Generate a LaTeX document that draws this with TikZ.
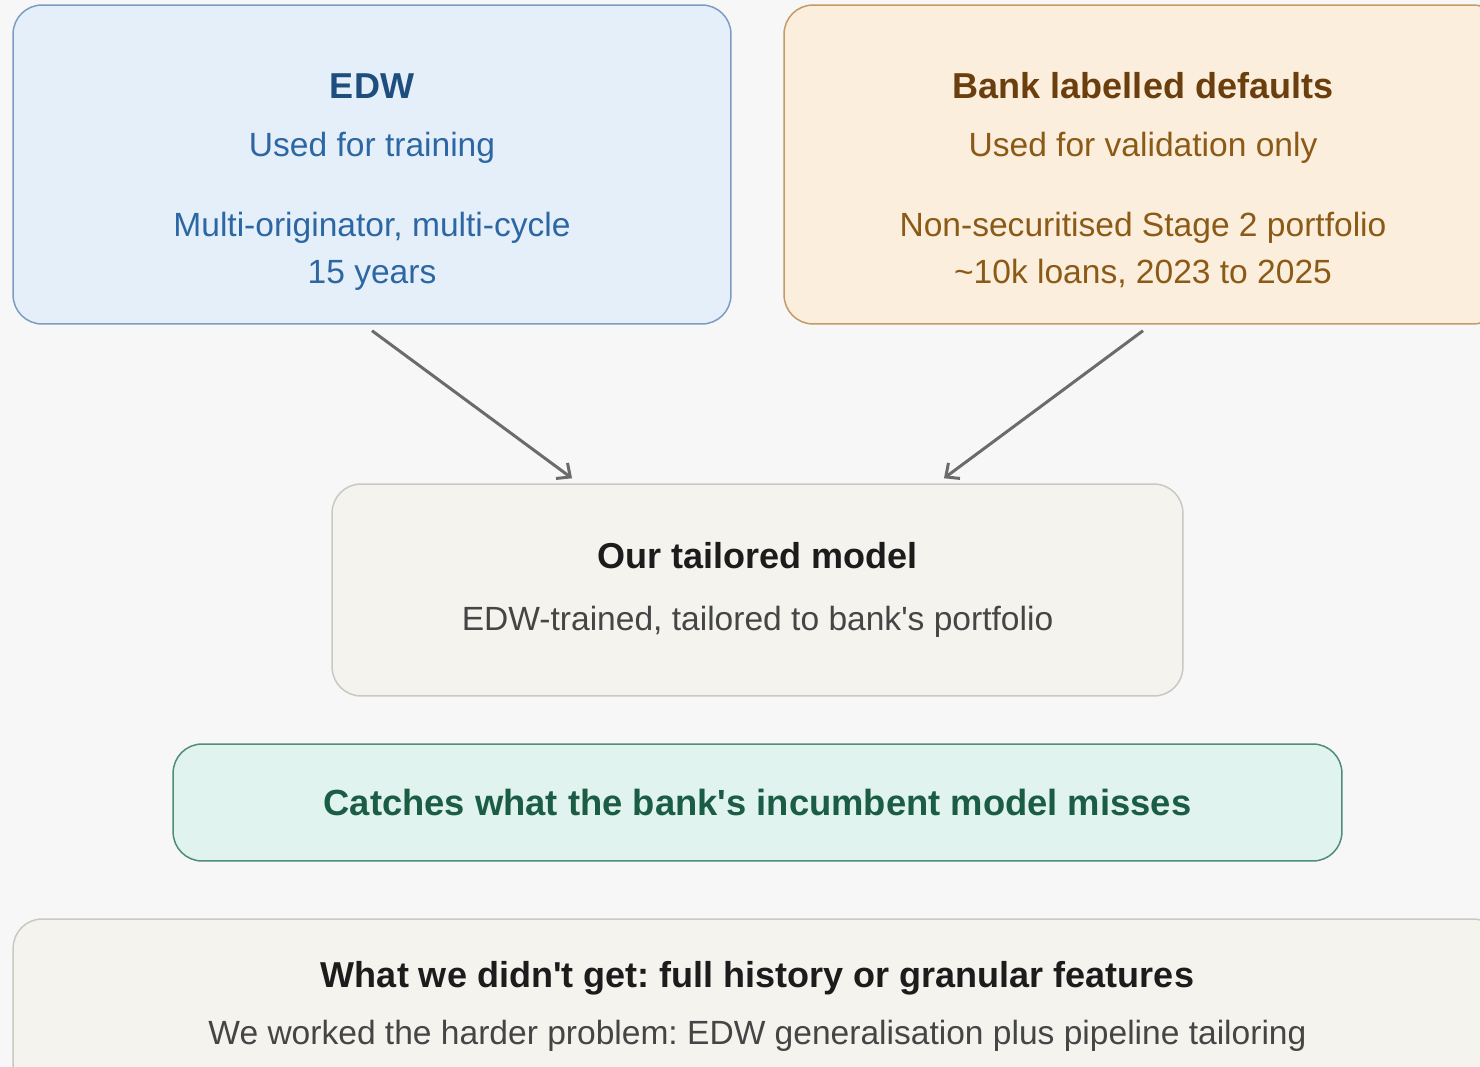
\documentclass[tikz,border=0pt]{standalone}
\usepackage{fontspec}
\setmainfont{Liberation Sans}
\usetikzlibrary{arrows.meta,positioning}
\frenchspacing
\definecolor{pagebg}{HTML}{F7F7F7}
\definecolor{edwfill}{HTML}{E5EFFA}
\definecolor{edwdraw}{HTML}{7D9CC2}
\definecolor{edwhead}{HTML}{1E4E7E}
\definecolor{edwsub}{HTML}{2D67A3}
\definecolor{bankfill}{HTML}{FBEEDC}
\definecolor{bankdraw}{HTML}{C49A66}
\definecolor{bankhead}{HTML}{6B3E0E}
\definecolor{banksub}{HTML}{8B5A17}
\definecolor{modelfill}{HTML}{F4F3EE}
\definecolor{modeldraw}{HTML}{C9C8C3}
\definecolor{headtxt}{HTML}{1C1C1C}
\definecolor{subtxt}{HTML}{454545}
\definecolor{catchfill}{HTML}{E0F3EE}
\definecolor{catchdraw}{HTML}{4F8D77}
\definecolor{catchtxt}{HTML}{1B5C45}
\definecolor{arrowgray}{HTML}{6B6B6B}
\newcommand{\headfont}{\fontsize{20.5}{26.7}\selectfont\bfseries}
\newcommand{\subfont}{\fontsize{19.1}{26.7}\selectfont}
\newcommand{\apos}{\textquotesingle}

\begin{document}
\begin{tikzpicture}[
  x=0.02cm, y=-0.02cm,
  panel/.style={draw, rounded corners=0.58cm, line width=0.85pt, inner sep=0pt},
  srcbox/.style={panel, minimum width=14.36cm, minimum height=6.38cm},
  txt/.style={align=center, inner sep=0pt, font=\subfont},
  flow/.style={-{Straight Barb[length=6pt,width=11pt]}, line width=1.7pt, draw=arrowgray}
]
  \fill[pagebg] (0,0) rectangle (1480,1067);
  \useasboundingbox (0,0) rectangle (1480,1067);

  % sources
  \node[srcbox, fill=edwfill, draw=edwdraw] (edw) at (372,164.5) {};
  \node[srcbox, fill=bankfill, draw=bankdraw] (bank) at (1143,164.5) {};
  \node[txt, text=edwsub] (edwtext) at ([yshift=-0.35cm]edw.center)
    {{\headfont\color{edwhead}EDW}\\[6.2pt]Used for training\\[18.7pt]Multi-originator, multi-cycle\\15 years};
  \node[txt, text=banksub] (banktext) at ([yshift=-0.31cm]bank.center)
    {{\headfont\color{bankhead}Bank labelled defaults}\\[6.2pt]Used for validation only\\[18.7pt]Non-securitised Stage 2 portfolio\\\textasciitilde10k loans, 2023 to 2025};

  % model and outcome
  \node[panel, fill=modelfill, draw=modeldraw, minimum width=17.02cm, minimum height=4.24cm] (model) at (757.5,590) {};
  \node[txt, text=subtxt] (modeltext) at (model.center)
    {{\headfont\color{headtxt}Our tailored model}\\[9pt]EDW-trained, tailored to bank\apos s portfolio};
  \node[panel, fill=catchfill, draw=catchdraw, minimum width=23.38cm, minimum height=2.34cm,
    font=\fontsize{20.7}{26.7}\selectfont\bfseries, text=catchtxt] (catch) at (757.5,802.5)
    {Catches what the bank\apos s incumbent model misses};

  % caveat
  \node[panel, fill=modelfill, draw=modeldraw, minimum width=29.78cm, minimum height=3.5cm] (gap) at (757.5,1006.5) {};
  \node[txt, text=subtxt] (gaptext) at (gap.center)
    {{\headfont\color{headtxt}What we didn\apos t get: full history or granular features}\\[6.2pt]We worked the harder problem: EDW generalisation plus pipeline tailoring};

  \draw[flow] ([yshift=-0.12cm]edw.south) -- ([xshift=-3.71cm,yshift=0.1cm]model.north);
  \draw[flow] ([yshift=-0.12cm]bank.south) -- ([xshift=3.73cm,yshift=0.1cm]model.north);
\end{tikzpicture}
\end{document}
